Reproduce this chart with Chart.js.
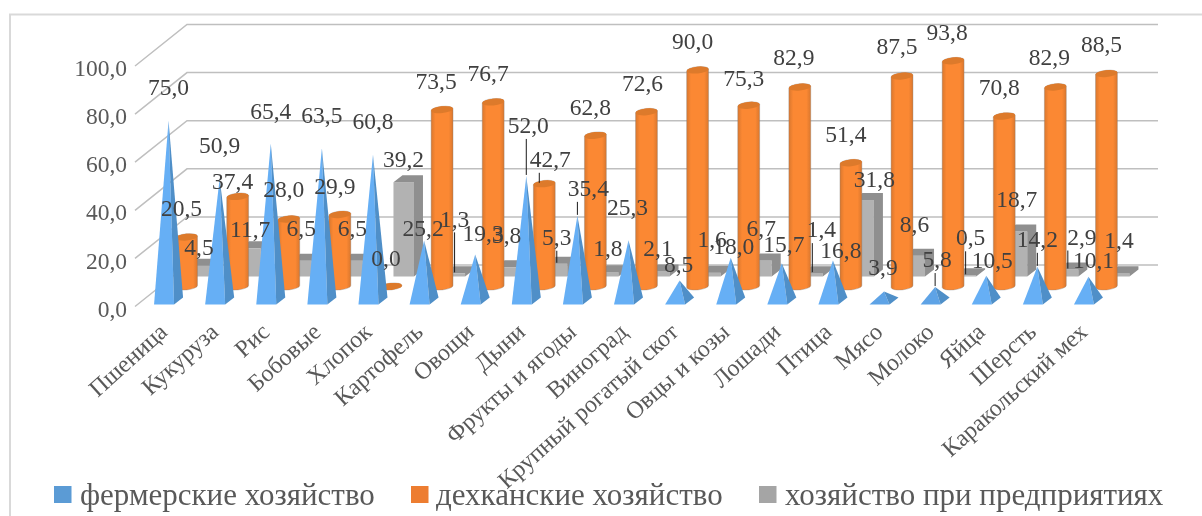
<!doctype html>
<html lang="ru">
<head>
  <meta charset="utf-8">
  <title>Хозяйства</title>
  <style>
    html, body { margin: 0; padding: 0; background: #fff; }
    canvas { display: block; }
  </style>
</head>
<body>
  <canvas id="chart" width="1202" height="516"></canvas>

  <script src="https://cdn.jsdelivr.net/npm/chart.js"></script>
  <script>
    const categories = ['Пшеница', 'Кукуруза', 'Рис', 'Бобовые', 'Хлопок', 'Картофель', 'Овощи', 'Дыни',
      'Фрукты и ягоды', 'Виноград', 'Крупный рогатый скот', 'Овцы и козы', 'Лошади', 'Птица', 'Мясо',
      'Молоко', 'Яйца', 'Шерсть', 'Каракольский мех'];
    const farmers = [75.0, 50.9, 65.4, 63.5, 60.8, 25.2, 19.3, 52.0, 35.4, 25.3, 8.5, 18.0, 15.7, 16.8, 3.9, 5.8, 10.5, 14.2, 10.1];
    const dehkan = [20.5, 37.4, 28.0, 29.9, 0.0, 73.5, 76.7, 42.7, 62.8, 72.6, 90.0, 75.3, 82.9, 51.4, 87.5, 93.8, 70.8, 82.9, 88.5];
    const enterprises = [4.5, 11.7, 6.5, 6.5, 39.2, 1.3, 3.8, 5.3, 1.8, 2.1, 1.6, 6.7, 1.4, 31.8, 8.6, 0.5, 18.7, 2.9, 1.4];
    const seriesNames = ['фермерские хозяйство', 'дехканские хозяйство', 'хозяйство при предприятиях'];
    const seriesColors = ['#5b9bd5', '#ed7d31', '#a5a5a5'];

    // hand placed data labels, [dx, dy] from the top of the mark
    const farmersLabelShift = [[0,-34],[0,-34],[0,-33],[0,-33],[0,-34],[-1,-13],[8,-22],[2,-51],[11,-28],[-1,-33],
      [-1,-17],[3,-12],[2,-19],[8,-11],[-1,-25],[2,-28],[6,-16],[0,-28],[5,-17]];
    const dehkanLabelShift = [[-5,-29],[-5,-16],[-5,-30],[-5,-29],[-5,-29],[-6,-29],[-5,-29],[6,-25],[-5,-29],[-4,-29],
      [-5,-29],[-5,-28],[-6,-30],[-5,-29],[-5,-30],[-6,-29],[-5,-29],[-6,-30],[-5,-30]];
    const enterprisesLabelShift = [[0,-19],[0,-20],[0,-33],[0,-33],[0,-23],[0,-55],[1,-33],[0,-27],[0,-24],[-1,-24],
      [2,-34],[0,-33],[9,-44],[11,-21],[0,-32],[5,-38],[0,-33],[14,-33],[0,-33]];
    // labels that got a leader line
    const farmersLeaders = [7, 8, 15, 17];
    const dehkanLeaders = [7];
    const enterprisesLeaders = [5, 7, 12, 15, 17];

    const DEPTH_X = 52, DEPTH_Y = 41.5;

    function fmt(v) { return v.toFixed(1).replace('.', ','); }

    function drawCone(ctx, bar) {
      const cx = bar.x + 8, by = bar.base - 5.5, top = bar.y - 5.5;
      const fl = [cx - 14.5, by + 3.5], fr = [cx + 5.5, by + 3.5], br = [cx + 14.5, by - 3.5];
      ctx.fillStyle = bar.base - bar.y < 15 ? '#5ea3e6' : '#66aff5';
      ctx.beginPath(); ctx.moveTo(...fl); ctx.lineTo(...fr); ctx.lineTo(cx, top); ctx.closePath(); ctx.fill();
      ctx.fillStyle = '#4f8fc8';
      ctx.beginPath(); ctx.moveTo(...fr); ctx.lineTo(...br); ctx.lineTo(cx, top); ctx.closePath(); ctx.fill();
    }

    function drawCylinder(ctx, bar) {
      const cx = bar.x + 26, by = bar.base - 20, top = bar.y - 20, rx = 11, ry = 3.4, tilt = -0.1;
      const g = ctx.createLinearGradient(cx - rx, 0, cx + rx, 0);
      g.addColorStop(0, '#d9772e'); g.addColorStop(0.2, '#fb8833'); g.addColorStop(0.8, '#fb8833'); g.addColorStop(1, '#d9772e');
      ctx.fillStyle = g;
      ctx.strokeStyle = 'rgba(130,130,130,0.35)';
      ctx.lineWidth = 1;
      ctx.beginPath();
      ctx.ellipse(cx, by, rx, ry, tilt, 0, Math.PI);
      ctx.ellipse(cx, top, rx, ry, tilt, Math.PI, Math.PI * 2);
      ctx.closePath(); ctx.fill(); ctx.stroke();
      ctx.fillStyle = '#dd7a2b';
      ctx.beginPath(); ctx.ellipse(cx, top, rx, ry, tilt, 0, Math.PI * 2); ctx.fill();
    }

    function drawBox(ctx, bar) {
      const x = bar.x + 28.5, r = x + 20.5, by = bar.base - 30, top = bar.y - 30;
      ctx.fillStyle = '#b2b2b2';
      ctx.fillRect(x, top, 20.5, by - top);
      ctx.fillStyle = '#8f8f8f';
      ctx.beginPath();
      ctx.moveTo(x, top); ctx.lineTo(r, top); ctx.lineTo(r, by); ctx.lineTo(r + 9, by - 7); ctx.lineTo(r + 9, top - 7); ctx.lineTo(x + 9, top - 7);
      ctx.closePath(); ctx.fill();
    }

    const painters = [drawCone, drawCylinder, drawBox];
    const labelShifts = [farmersLabelShift, dehkanLabelShift, enterprisesLabelShift];
    const leaders = [farmersLeaders, dehkanLeaders, enterprisesLeaders];
    const markOffset = [[8, -5.5], [26, -20], [38.5, -30]];
    const legendBoxX = [54, 411, 759];
    const legendTextX = [80, 436, 785];

    const wall3d = {
      id: 'wall3d',
      beforeDraw(chart) {
        const ctx = chart.ctx;
        ctx.save();
        ctx.strokeStyle = '#d9d9d9';
        ctx.lineWidth = 2;
        ctx.beginPath();
        ctx.moveTo(10, 516); ctx.lineTo(10, 14.5); ctx.lineTo(1202, 14.5);
        ctx.stroke();
        ctx.restore();
      },
      beforeDatasetsDraw(chart) {
        const ctx = chart.ctx, y = chart.scales.y, a = chart.chartArea;
        ctx.save();
        ctx.strokeStyle = '#bfbfbf';
        ctx.lineWidth = 1.5;
        y.ticks.forEach(t => {
          const py = y.getPixelForValue(t.value);
          ctx.beginPath();
          ctx.moveTo(a.left, py);
          ctx.lineTo(a.left + DEPTH_X, py - DEPTH_Y);
          ctx.lineTo(a.right + DEPTH_X, py - DEPTH_Y);
          ctx.stroke();
        });
        ctx.restore();
      },
      beforeDatasetDraw(chart, args) {
        const ctx = chart.ctx;
        ctx.save();
        args.meta.data.forEach(bar => painters[args.index](ctx, bar));
        ctx.restore();
        return false;
      },
      afterDatasetsDraw(chart) {
        const ctx = chart.ctx;
        ctx.save();
        ctx.font = '23.5px "Liberation Serif"';
        ctx.textAlign = 'center';
        ctx.textBaseline = 'middle';
        [2, 1, 0].forEach(s => {
          const meta = chart.getDatasetMeta(s);
          meta.data.forEach((bar, i) => {
            const mx = bar.x + markOffset[s][0], my = bar.y + markOffset[s][1];
            const lx = mx + labelShifts[s][i][0], ly = my + labelShifts[s][i][1];
            if (leaders[s].includes(i)) {
              const vx = s === 1 ? mx - 5 : mx;
              ctx.strokeStyle = '#1a1a1a';
              ctx.lineWidth = 1;
              ctx.beginPath(); ctx.moveTo(vx, ly + 14); ctx.lineTo(vx, my - 1); ctx.stroke();
            }
            ctx.fillStyle = '#404040';
            ctx.fillText(fmt(chart.data.datasets[s].data[i]), lx, ly + 2);
          });
        });
        // legend
        ctx.textAlign = 'left';
        ctx.textBaseline = 'alphabetic';
        ctx.font = '31px "Liberation Serif"';
        seriesNames.forEach((name, i) => {
          ctx.fillStyle = seriesColors[i];
          ctx.fillRect(legendBoxX[i], 486, 17.5, 17);
          ctx.fillStyle = '#595959';
          ctx.fillText(name, legendTextX[i], 505);
        });
        ctx.restore();
      }
    };

    new Chart(document.getElementById('chart'), {
      type: 'bar',
      data: {
        labels: categories,
        datasets: [
          { label: seriesNames[0], data: farmers, backgroundColor: seriesColors[0] },
          { label: seriesNames[1], data: dehkan, backgroundColor: seriesColors[1] },
          { label: seriesNames[2], data: enterprises, backgroundColor: seriesColors[2] }
        ]
      },
      options: {
        responsive: false,
        animation: false,
        devicePixelRatio: 1,
        layout: { padding: { top: 66, right: 96 } },
        datasets: { bar: { grouped: false } },
        plugins: {
          tooltip: { enabled: false },
          legend: { display: false }
        },
        scales: {
          x: {
            grid: { display: false, drawTicks: false },
            border: { display: false },
            afterFit(s) { s.height = s.chart.height - 306.5; },
            ticks: {
              autoSkip: false, minRotation: 42, maxRotation: 42, padding: 12, labelOffset: 4,
              color: '#595959',
              font: { family: '"Liberation Serif"', size: 24 }
            }
          },
          y: {
            min: 0, max: 100,
            grid: { display: false, drawTicks: false },
            border: { display: false },
            afterFit(s) { s.width = 135; },
            ticks: {
              stepSize: 20, padding: 8, labelOffset: 4,
              color: '#595959',
              font: { family: '"Liberation Serif"', size: 23.5 },
              callback: v => fmt(v)
            }
          }
        }
      },
      plugins: [wall3d]
    });
  </script>
</body>
</html>
